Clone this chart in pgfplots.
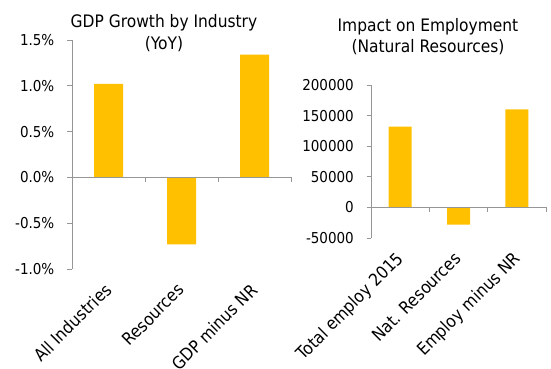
\documentclass[border=0pt]{standalone}
\usepackage{fontspec}
\setmainfont{DejaVu Sans Condensed}
\usepackage{pgfplots}
\pgfplotsset{compat=1.18}
\definecolor{gold}{RGB}{255,192,0}
\definecolor{axgray}{RGB}{150,150,150}
\begin{document}
\begin{tikzpicture}
\useasboundingbox (0pt,0pt) rectangle (551pt,368pt);
\pgfplotsset{
  mystyle/.style={
    scale only axis,
    anchor=south west,
    xmin=-0.5, xmax=2.5,
    axis y line*=left,
    axis x line*=bottom,
    x axis line style={draw=none},
    y axis line style={draw=axgray, line width=0.8pt},
    xtick={0,1,2},
    major x tick style={draw=none},
    ytick style={draw=axgray, line width=0.8pt},
    tick align=outside,
    major tick length=5pt,
    /pgf/number format/assume math mode=true,
    tick label style={text=black},
    yticklabel style={font=\fontsize{15}{18}\selectfont, inner sep=2pt, xshift=-10.5pt},
    xticklabel style={font=\fontsize{17.2}{20}\selectfont, xshift=-5pt, yshift=-8pt, rotate=45, anchor=north east, inner sep=0pt},
    clip=false,
  },
}
% Left chart
\begin{axis}[mystyle,
  at={(72pt,99pt)}, width=219pt, height=229pt,
  ymin=-1, ymax=1.5,
  ytick={-1,-0.5,0,0.5,1,1.5},
  yticklabel={\pgfmathprintnumber[fixed,fixed zerofill,precision=1,assume math mode=true]{\tick}\%},
  xticklabels={All Industries,Resources,GDP minus NR},
  ybar, bar width=29pt,
]
\addplot[fill=gold, draw=none] coordinates {(0,1.02) (1,-0.73) (2,1.34)};
\draw[axgray, line width=0.8pt] (axis cs:-0.5,0) -- (axis cs:2.5,0);
\draw[axgray, line width=0.8pt] (axis cs:0.5,0) -- ([yshift=-5pt]axis cs:0.5,0);
\draw[axgray, line width=0.8pt] (axis cs:1.5,0) -- ([yshift=-5pt]axis cs:1.5,0);
\draw[axgray, line width=0.8pt] (axis cs:2.5,0) -- ([yshift=-5pt]axis cs:2.5,0);
\end{axis}
% Right chart
\begin{axis}[mystyle,
  at={(371pt,130pt)}, width=175pt, height=153pt,
  ymin=-50000, ymax=200000,
  ytick={-50000,0,50000,100000,150000,200000},
  scaled y ticks=false,
  major tick length=4.5pt,
  yticklabel style={/pgf/number format/fixed, /pgf/number format/1000 sep={}},
  xticklabels={Total employ 2015,Nat. Resources,Employ minus NR},
  ybar, bar width=23pt,
]
\addplot[fill=gold, draw=none] coordinates {(0,132000) (1,-28000) (2,160000)};
\draw[axgray, line width=0.8pt] (axis cs:-0.5,0) -- (axis cs:2.5,0);
\draw[axgray, line width=0.8pt] (axis cs:0.5,0) -- ([yshift=-5pt]axis cs:0.5,0);
\draw[axgray, line width=0.8pt] (axis cs:1.5,0) -- ([yshift=-5pt]axis cs:1.5,0);
\draw[axgray, line width=0.8pt] (axis cs:2.5,0) -- ([yshift=-5pt]axis cs:2.5,0);
\end{axis}
\node[font=\fontsize{17.2}{20}\selectfont, anchor=base] at (164pt,341pt) {GDP Growth by Industry};
\node[font=\fontsize{17.2}{20}\selectfont, anchor=base] at (164pt,319pt) {(YoY)};
\node[font=\fontsize{17.2}{20}\selectfont, anchor=base] at (428pt,336.5pt) {Impact on Employment};
\node[font=\fontsize{17.2}{20}\selectfont, anchor=base] at (428pt,316pt) {(Natural Resources)};
\end{tikzpicture}
\end{document}
